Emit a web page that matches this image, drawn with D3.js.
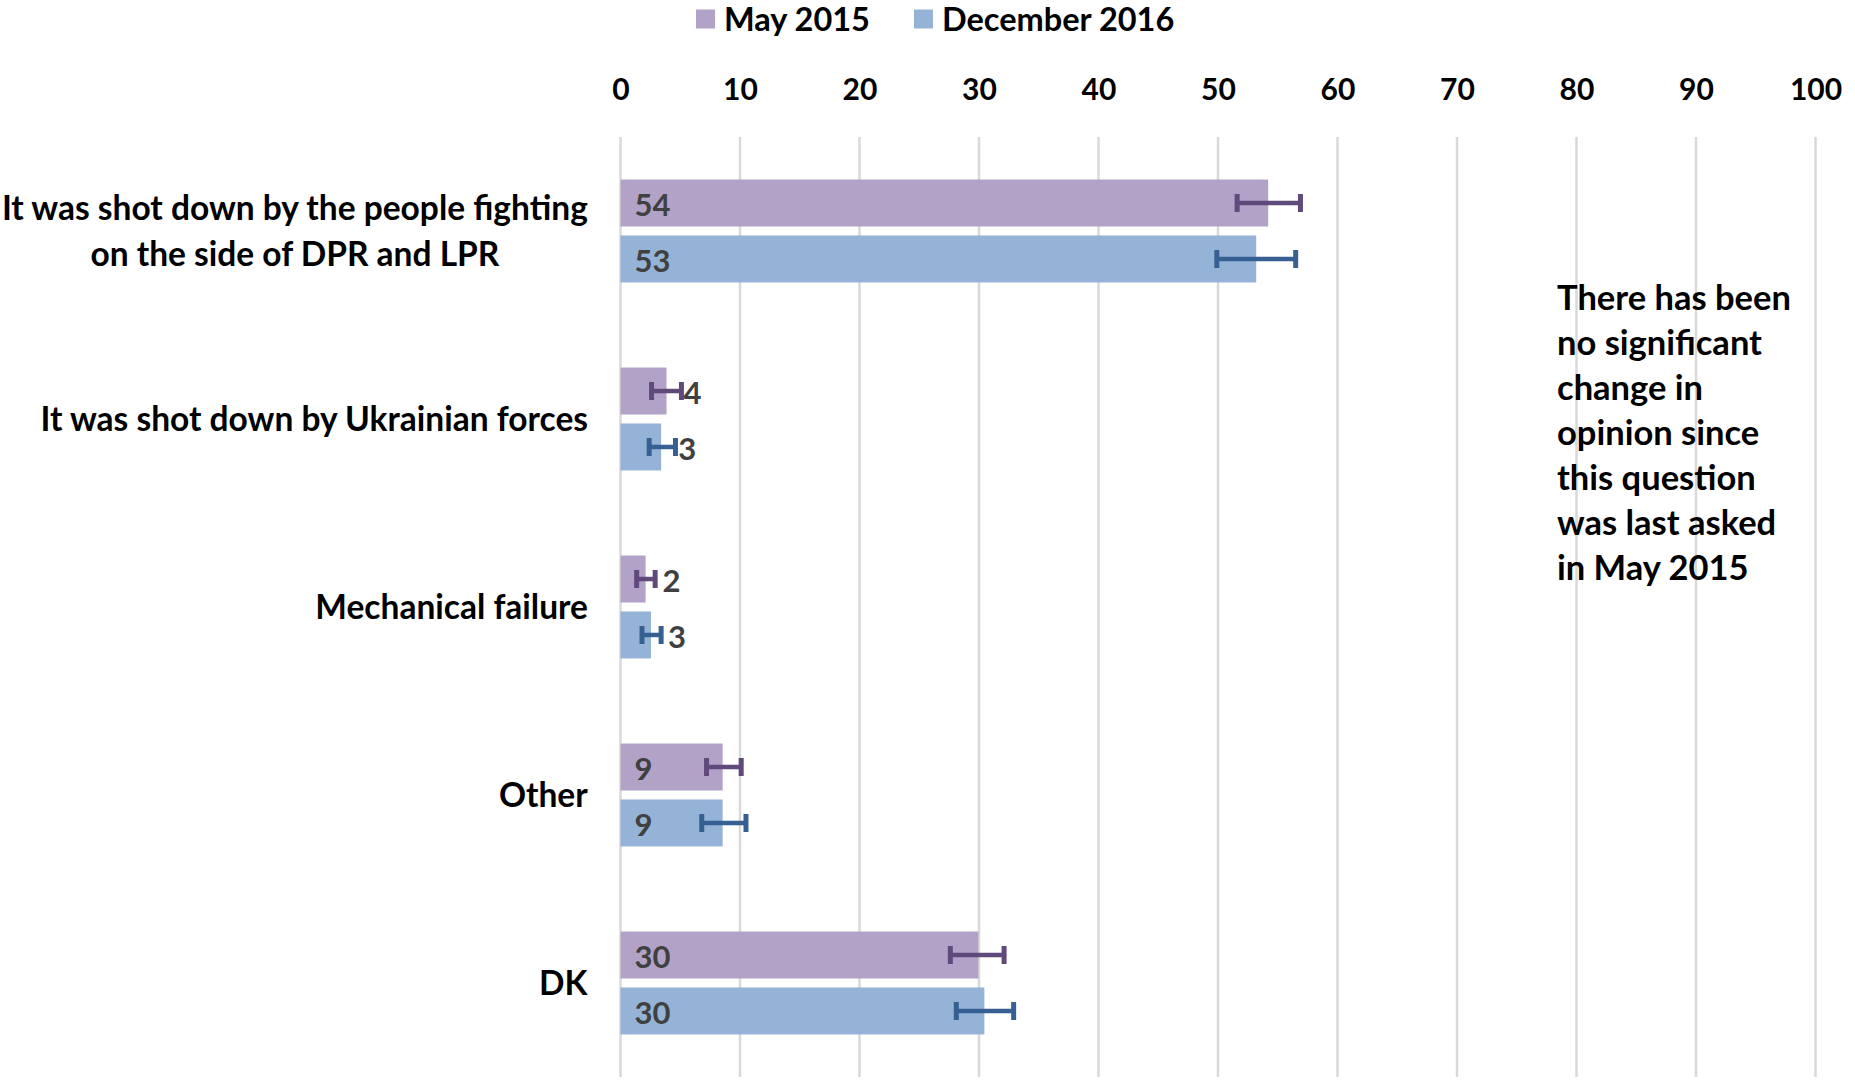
<!DOCTYPE html>
<html>
<head>
<meta charset="utf-8">
<script src="https://cdn.jsdelivr.net/npm/d3@7"></script>
<style>
  body { margin: 0; background: #fff; }
  svg text { font-family: Lato, "Open Sans", sans-serif; font-weight: bold; }
  .tick-label { font-size: 30px; fill: #000; }
  .cat-label { font-size: 33.5px; fill: #000; }
  .val-label { font-size: 31px; fill: #404040; }
  .legend-label { font-size: 32.5px; fill: #000; }
  .note { font-size: 34.5px; fill: #000; }
</style>
</head>
<body>
<div id="chart"></div>
<script>
// data
const categories = [
  ['It was shot down by the people fighting', 'on the side of DPR and LPR'],
  ['It was shot down by Ukrainian forces'],
  ['Mechanical failure'],
  ['Other'],
  ['DK']
];
const seriesNames = ['May 2015', 'December 2016'];
const may2015 = [54.2, 3.85, 2.1, 8.55, 29.95];
const dec2016 = [53.2, 3.4, 2.55, 8.55, 30.45];
const may2015Low = [51.6, 2.6, 1.35, 7.2, 27.6];
const may2015High = [56.9, 5.1, 2.9, 10.1, 32.1];
const dec2016Low = [49.9, 2.4, 1.8, 6.8, 28.1];
const dec2016High = [56.5, 4.6, 3.4, 10.5, 32.9];
const xTicks = [0, 10, 20, 30, 40, 50, 60, 70, 80, 90, 100];
const noteLines = [
  'There has been', 'no significant', 'change in', 'opinion since',
  'this question', 'was last asked', 'in May 2015'
];

const W = 1855, H = 1081;
const fills = ['#B3A2C7', '#95B3D7'];
const errColors = ['#604A7B', '#376092'];

const svg = d3.select('#chart').append('svg')
  .attr('width', W)
  .attr('height', H);

const x = d3.scaleLinear().domain([0, 100]).range([620.5, 1815.5]);
const y = d3.scaleBand().domain(d3.range(categories.length)).range([137, 1077]).padding(0);
const ySeries = d3.scaleBand().domain([0, 1]).range([0, y.bandwidth()])
  .paddingInner(0.16).paddingOuter(0.76);

// gridlines
svg.append('g')
  .selectAll('line')
  .data(xTicks)
  .enter().append('line')
  .attr('x1', d => x(d)).attr('x2', d => x(d))
  .attr('y1', 137).attr('y2', 1077)
  .attr('stroke', '#D9D9D9')
  .attr('stroke-width', 2.5);

// top axis labels
const xAxis = d3.axisTop(x).tickValues(xTicks).tickSize(0).tickPadding(0);
const axisG = svg.append('g')
  .attr('transform', 'translate(0, 100)')
  .call(xAxis);
axisG.select('.domain').remove();
axisG.selectAll('text').attr('class', 'tick-label').attr('font-family', null).attr('font-size', null);

const rows = categories.map((c, i) => ({
  i,
  vals: [
    { s: 0, v: may2015[i], lo: may2015Low[i], hi: may2015High[i] },
    { s: 1, v: dec2016[i], lo: dec2016Low[i], hi: dec2016High[i] }
  ]
}));

const groups = svg.selectAll('.grp')
  .data(rows)
  .enter().append('g')
  .attr('class', 'grp')
  .attr('transform', d => `translate(0, ${y(d.i)})`);

const bars = groups.selectAll('.bar')
  .data(d => d.vals)
  .enter().append('g');

bars.append('rect')
  .attr('x', x(0))
  .attr('y', d => ySeries(d.s))
  .attr('width', d => x(d.v) - x(0))
  .attr('height', ySeries.bandwidth())
  .attr('fill', d => fills[d.s]);

// error bars
const capH = 18;
bars.each(function(d) {
  const g = d3.select(this);
  const cy = ySeries(d.s) + ySeries.bandwidth() / 2;
  g.append('line')
    .attr('x1', x(d.lo)).attr('x2', x(d.hi))
    .attr('y1', cy).attr('y2', cy)
    .attr('stroke', errColors[d.s]).attr('stroke-width', 4.5);
  [d.lo, d.hi].forEach(v => {
    g.append('line')
      .attr('x1', x(v)).attr('x2', x(v))
      .attr('y1', cy - capH / 2).attr('y2', cy + capH / 2)
      .attr('stroke', errColors[d.s]).attr('stroke-width', 5);
  });
});

// value labels
bars.append('text')
  .attr('class', 'val-label')
  .attr('x', d => d.v >= 5 ? x(0) + 14 : x(d.v) + 17)
  .attr('y', d => ySeries(d.s) + ySeries.bandwidth() / 2)
  .attr('dy', '0.42em')
  .text(d => d3.format('.0f')(d.v));

// category labels
const catText = svg.selectAll('.cat-label')
  .data(rows)
  .enter().append('text')
  .attr('class', 'cat-label')
  .attr('text-anchor', 'middle')
  .attr('y', d => y(d.i) + y.bandwidth() / 2);

catText.each(function(d) {
  const lines = categories[d.i];
  const t = d3.select(this);
  const lh = 46;
  lines.forEach((ln, k) => {
    t.append('tspan')
      .attr('x', 0)
      .attr('dy', k === 0 ? (0.36 * 33.5 - (lines.length - 1) * lh / 2) : lh)
      .text(ln);
  });
});
// right-align the block, center each line inside it (like Excel)
catText.each(function() {
  const t = d3.select(this);
  const w = this.getBBox().width;
  t.selectAll('tspan').attr('x', 588 - w / 2);
});

// note
const note = svg.append('text')
  .attr('class', 'note')
  .attr('x', 1557)
  .attr('y', 298);
noteLines.forEach((ln, k) => {
  note.append('tspan').attr('x', 1557).attr('dy', k === 0 ? '0.36em' : 45).text(ln);
});

// legend
const legend = svg.append('g').attr('transform', 'translate(696, 19)');
let lx = 0;
seriesNames.forEach((name, i) => {
  const g = legend.append('g').attr('transform', `translate(${lx}, 0)`);
  g.append('rect').attr('x', 0).attr('y', -9.5).attr('width', 19).attr('height', 19).attr('fill', fills[i]);
  const t = g.append('text').attr('class', 'legend-label').attr('x', 28).attr('dy', '0.36em').text(name);
  lx += 28 + t.node().getComputedTextLength() + 44;
});
</script>
</body>
</html>
